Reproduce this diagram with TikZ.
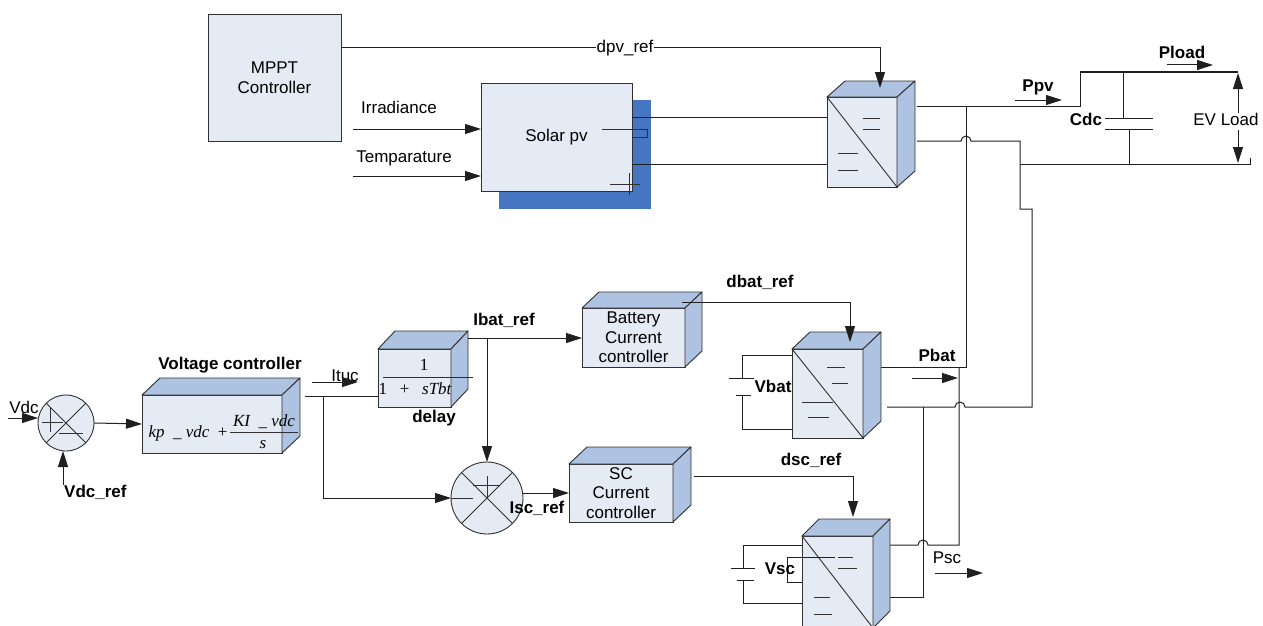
\documentclass[tikz,border=0pt]{standalone}
\usepackage{fontspec}
\setmainfont{Liberation Sans}
\newfontfamily\tnrfont{Liberation Serif}
\usetikzlibrary{arrows.meta}
\definecolor{frontc}{HTML}{E5EBF5}
\definecolor{sidec}{HTML}{AEC3E1}
\definecolor{shadowc}{HTML}{4676C2}
\definecolor{edgec}{HTML}{303030}
\newcommand{\lblfont}{\fontsize{17}{19.5}\selectfont}
\newcommand{\frmfont}{\tnrfont\fontsize{17}{19}\selectfont}
\newcommand{\cubefaces}[3]{%
 \filldraw[sideface] (#1.north west) -- ([shift={(#2,#3)}]#1.north west) -- ([shift={(#2,#3)}]#1.north east) -- (#1.north east) -- cycle;
 \filldraw[sideface] (#1.north east) -- ([shift={(#2,#3)}]#1.north east) -- ([shift={(#2,#3)}]#1.south east) -- (#1.south east) -- cycle;}
\tikzset{
 front/.style={draw=edgec, fill=frontc, line width=0.9pt, inner sep=0pt, outer sep=0pt, align=center, font=\lblfont},
 sideface/.style={draw=edgec, fill=sidec, line width=0.9pt, line join=round},
 sumnode/.style={draw=edgec, fill=frontc, circle, line width=0.9pt, inner sep=0pt, outer sep=0pt},
 wire/.style={draw=black!88, line width=1pt},
 arr/.style={wire, -{Triangle[length=16pt,width=10pt]}},
 lbl/.style={font=\lblfont, inner sep=1pt},
 blbl/.style={font=\lblfont\bfseries, inner sep=1pt},
 frm/.style={font=\frmfont, inner sep=0pt},
 thin/.style={draw=edgec, line width=0.9pt}
}
\begin{document}
\begin{tikzpicture}[x=1pt,y=-1pt]
\useasboundingbox (0,0) rectangle (1263,626);

% ---------------- top: MPPT / solar / PV converter
\node[front, minimum width=133pt, minimum height=127pt] (mppt) at (274.5,77.5) {MPPT\\Controller};
\fill[shadowc] (499,100) rectangle (651,209);
\node[front, minimum width=151pt, minimum height=108pt] (solar) at (556.5,137) {Solar pv};
\draw[thin] (602,129) -- (647,129) -- (647,137) -- (632,137);
\draw[thin] (610,184) -- (640,184) (629,173) -- (629,195);

\node[lbl] (irr) at (399,107) {Irradiance};
\node[lbl] (tmp) at (404,158) {Temparature};
\coordinate (irrs) at (353,129);
\coordinate (tmps) at (353,176);
\draw[arr] (irrs) -- (irrs -| solar.west);
\draw[arr] (tmps) -- (tmps -| solar.west);

\node[front, minimum width=70pt, minimum height=90pt] (pvc) at (862,142) {};
\cubefaces{pvc}{18}{-16}
\draw[thin] (pvc.north west) -- (pvc.south east);
\draw[thin] (863,118) -- (880,118) (863,129) -- (880,129) (838,153) -- (858,153) (838,170) -- (858,170);

\draw[wire] (632,117) -- (827,117);
\draw[wire] (632,164) -- (827,164);

\draw[arr] (341,48) -- (880,48) -- (880,88);
\node[lbl, fill=white] (dpv) at (625,48) {dpv\_ref};

% PV converter outputs / DC bus
\draw[wire] (917,106) -- (1080,106) -- (1080,72) -- (1238,72);
\draw[wire] (917,141) -- (961,141) arc[start angle=180, end angle=0, radius=5pt] -- (1020,141) -- (1020,209) -- (1032,209) -- (1032,407) -- (965,407) arc[start angle=0, end angle=180, radius=5pt] -- (887,407);
\draw[wire] (1020,164) -- (1250,164) -- (1250,158);
% Cdc
\draw[wire] (1123,72) -- (1123,118);
\draw[wire] (1105,118) -- (1153,118);
\draw[wire] (1105,129) -- (1153,129);
\draw[wire] (1129,129) -- (1129,164);
\node[blbl] (cdc) at (1086,119) {Cdc};
\node[blbl] (ppv) at (1038,87) {Ppv};
\draw[arr] (1015,100) -- (1062,100);
\node[blbl] (pload) at (1182,52) {Pload};
\draw[arr] (1167,65) -- (1213,65);
\node[lbl] (evl) at (1226,119) {EV Load};
\draw[arr] (1238,113) -- (1238,73);
\draw[arr] (1238,130) -- (1238,163);

\draw[wire] (966,106) -- (966,367) -- (869,367);
\draw[wire] (959,367) -- (959,545) -- (928,545) arc[start angle=0, end angle=180, radius=5pt] -- (887,545);
\draw[wire] (923,407) -- (923,597) -- (887,597);
\node[blbl] (pbat) at (937,355) {Pbat};
\draw[arr] (912,378) -- (958,378);
\node[lbl] (psc) at (947,558) {Psc};
\draw[arr] (935,573) -- (983,573);

% ---------------- battery branch
\node[front, minimum width=103pt, minimum height=59pt] (bcc) at (633.5,337.5) {Battery\\Current\\controller};
\cubefaces{bcc}{17}{-16}
\node[front, minimum width=71pt, minimum height=89pt] (bconv) at (827.5,393.5) {};
\cubefaces{bconv}{18}{-17}
\draw[thin] (bconv.north west) -- (bconv.south east);
\draw[thin] (827,367) -- (845,367) (832,383) -- (848,383) (802,402) -- (833,402) (808,417) -- (829,417);
\draw[arr] (682,302) -- (850,302) -- (850,342);
\node[blbl] (dbat) at (760,282) {dbat\_ref};
\draw[wire] (792,355) -- (742,355) -- (742,378);
\draw[wire] (729,378) -- (754,378) (736,395) -- (751,395);
\draw[wire] (742,395) -- (742,429) -- (792,429);
\node[blbl] (vbat) at (773,386) {Vbat};

% ---------------- SC branch
\node[front, minimum width=104pt, minimum height=58pt] (scc) at (621,493) {SC\\Current\\controller};
\cubefaces{scc}{18}{-17}
\node[front, minimum width=71pt, minimum height=92pt] (sconv) at (837.5,582) {};
\cubefaces{sconv}{17}{-17}
\draw[thin] (sconv.north west) -- (sconv.south east);
\draw[thin] (838,557) -- (853,557) (838,568) -- (857,568) (814,597) -- (830,597) (814,614) -- (832,614);
\draw[arr] (694,476) -- (853,476) -- (853,517);
\node[blbl] (dsc) at (811,460) {dsc\_ref};
\draw[wire] (802,545) -- (743,545) -- (743,568);
\draw[wire] (731,568) -- (755,568) (737,580) -- (754,580);
\draw[wire] (743,580) -- (743,603) -- (802,603);
\draw[wire] (835,557) -- (787,557) -- (787,582) -- (802,582);
\node[blbl] (vsc) at (780,569) {Vsc};

% ---------------- voltage loop
\node[sumnode, minimum size=56pt] (s1) at (66,423) {};
\draw[thin] (s1.north west) -- (s1.south east) (s1.north east) -- (s1.south west);
\draw[thin] (42,422) -- (63,422) (50,408) -- (50,432) (59,433) -- (83,433);
\node[lbl] (vdc) at (24,407) {Vdc};
\draw[arr] (8,418) -- (s1.west |- 8,418);
\node[blbl, anchor=west] (vdcref) at (63,492) {Vdc\_ref};
\draw[arr] (63,485) -- (s1.south -| 63,485);

\node[front, minimum width=140pt, minimum height=58pt] (vc) at (212,424) {};
\cubefaces{vc}{18}{-17}
\node[blbl] (vclbl) at (230,365) {Voltage controller};
\draw[arr] (s1.east) -- (vc.west);
\node[frm] (vcf1) at (188,433) {\itshape kp\upshape\ \ \_\ \itshape vdc\upshape\ \ +};
\node[frm] (vcf2) at (264,422) {\itshape KI\upshape\ \ \_\ \itshape vdc};
\draw[thin] (230,432) -- (298,432);
\node[frm] (vcf3) at (263,445) {\itshape s};

\node[front, minimum width=73pt, minimum height=58pt] (dly) at (414.5,378) {};
\cubefaces{dly}{17}{-18}
\node[frm] (df1) at (424,365) {1};
\draw[thin] (383,377) -- (473,377);
\node[frm] (df2) at (415,389) {1\ \ \ +\ \ \ \itshape sTbt};
\node[blbl] (dlbl) at (434,418) {delay};

\draw[wire] (305,396) -- (dly.west |- 305,396);
\node[lbl] (itu) at (345,376) {Ituc};
\draw[arr] (312,382) -- (358,382);

\node[sumnode, minimum size=72pt] (s2) at (487,498) {};
\draw[thin] (s2.north west) -- (s2.south east) (s2.south west) -- (s2.north east);
\draw[thin] (487,476) -- (487,497) (473,485) -- (499,485) (451,498) -- (473,498);
\draw[arr] (323,396) -- (323,498) -- (s2.west);

\draw[arr] (468,338) -- (bcc.west |- 468,338);
\node[blbl] (ibat) at (504,320) {Ibat\_ref};
\draw[arr] (487,338) -- (s2.north);

\draw[arr] (523,493) -- (scc.west |- 523,493);
\node[blbl] (isc) at (537,508) {Isc\_ref};
\end{tikzpicture}
\end{document}
